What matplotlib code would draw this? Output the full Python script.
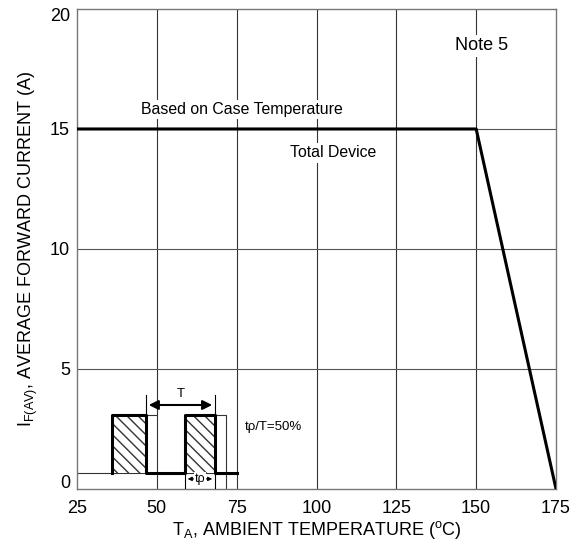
import matplotlib.pyplot as plt
from matplotlib.patches import Rectangle
from matplotlib.transforms import ScaledTranslation

plt.rcParams['font.family'] = ['Liberation Sans', 'DejaVu Sans']

# derating curve
temp = [25, 150, 175]
current = [15, 15, 0]

x_ticks = [25, 50, 75, 100, 125, 150, 175]
y_ticks = [0, 5, 10, 15, 20]

# pulse inset (in data units)
pulse_base = 0.67
pulse_top = 3.1
pulse_x = [25, 36, 46.6, 58.8, 68.2, 75.1]

fig = plt.figure(figsize=(5.76, 5.44), dpi=100)
ax = fig.add_axes([0.1337, 0.1011, 0.8316, 0.8824])
ax.set_xlim(25, 175)
ax.set_ylim(0, 20)

for x in x_ticks[1:-1]:
    ax.axvline(x, color='#333333', lw=0.8, zorder=1)
for y in y_ticks[1:-1]:
    ax.axhline(y, color='#555555', lw=0.8, zorder=1)
for s in ax.spines.values():
    s.set_color('#777777')
    s.set_linewidth(1.0)

ax.plot(temp, current, color='black', lw=2.2, zorder=3, solid_capstyle='butt')

ax.set_xticks(x_ticks)
ax.set_yticks(y_ticks)
ax.tick_params(length=0, labelsize=13)
ax.tick_params(axis='x', pad=8)
ax.tick_params(axis='y', pad=5)
labs = ax.get_yticklabels()
labs[0].set_transform(labs[0].get_transform() + ScaledTranslation(0, 8 / 100, fig.dpi_scale_trans))
labs[-1].set_transform(labs[-1].get_transform() + ScaledTranslation(0, -6 / 100, fig.dpi_scale_trans))

ax.set_xlabel('T$_\\mathregular{A}$, AMBIENT TEMPERATURE ($^\\mathregular{o}$C)', fontsize=13, labelpad=1)
ax.set_ylabel('I$_\\mathregular{F(AV)}$, AVERAGE FORWARD CURRENT (A)', fontsize=13, labelpad=7)

box = dict(facecolor='white', edgecolor='none', pad=1.5)
ax.text(76.7, 15.8, 'Based on Case Temperature', fontsize=11.4, ha='center', va='center', bbox=box, zorder=4)
ax.text(105.2, 14.0, 'Total Device', fontsize=11.4, ha='center', va='center', bbox=box, zorder=4)
ax.text(151.8, 18.46, 'Note 5', fontsize=13, ha='center', va='center', bbox=box, zorder=4)

# pulse inset
x0, a, b, c, d, e = pulse_x
ax.plot([x0, e], [pulse_base, pulse_base], color='#333333', lw=0.8, zorder=2)
for xl, xr in [(a, b), (c, d)]:
    ax.add_patch(Rectangle((xl, pulse_base), xr - xl, pulse_top - pulse_base,
                           facecolor='white', edgecolor='#333333', hatch='\\\\\\', lw=0, zorder=2))
# ghost outlines
ax.plot([b, 50], [pulse_top, pulse_top], color='#333333', lw=0.8, zorder=2)
ax.plot([d, 71.7, 71.7], [pulse_top, pulse_top, 0], color='#333333', lw=0.8, zorder=2)
ax.plot([a, a, b, b, c, c, d, d, e], [pulse_base, pulse_top, pulse_top, pulse_base, pulse_base,
                                      pulse_top, pulse_top, pulse_base, pulse_base],
        color='black', lw=2.2, zorder=3)
# T arrow
ax.plot([b, b], [pulse_top, 3.9], color='black', lw=0.8, zorder=3)
ax.plot([d, d], [pulse_top, 3.9], color='black', lw=0.8, zorder=3)
ax.annotate('', xy=(b, 3.5), xytext=(d, 3.5),
            arrowprops=dict(arrowstyle='<|-|>', color='black', lw=1.5, mutation_scale=14), zorder=3)
ax.text((b + d) / 2, 3.7, 'T', fontsize=9.5, ha='center', va='bottom', zorder=4)
# tp arrow
ax.plot([c, c], [pulse_base, 0], color='black', lw=0.8, zorder=3)
ax.plot([d, d], [pulse_base, 0], color='black', lw=0.8, zorder=3)
ax.annotate('', xy=(c, 0.42), xytext=(d, 0.42),
            arrowprops=dict(arrowstyle='<|-|>', color='black', lw=0.8, mutation_scale=6), zorder=3)
ax.text((c + d) / 2, 0.42, 'tρ', fontsize=9, ha='center', va='center', zorder=4,
        bbox=dict(facecolor='white', edgecolor='none', pad=0.5))
ax.text(77.6, 2.58, 'tρ/T=50%', fontsize=9.5, ha='left', va='center', zorder=4)

plt.savefig('out.png', dpi=100)
